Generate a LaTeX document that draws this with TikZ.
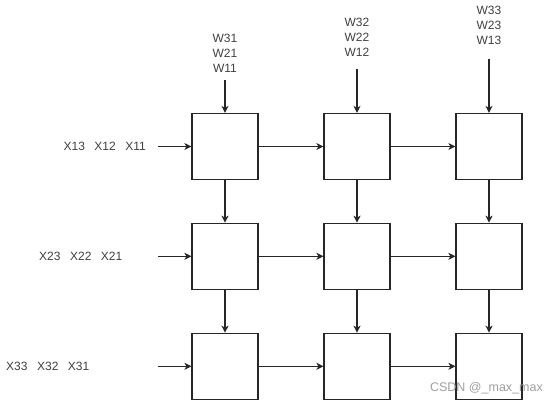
\documentclass[tikz,border=0pt]{standalone}
\usepackage{fontspec}
\setmainfont{Liberation Sans}
\usetikzlibrary{arrows.meta}
\definecolor{txt}{HTML}{404040}
\definecolor{wm}{HTML}{A0A0A0}
\begin{document}
\begin{tikzpicture}[x=1pt,y=1pt,
  cell/.style={draw=black!85,line width=1.2pt,minimum width=66pt,minimum height=66pt,inner sep=0pt},
  flow/.style={draw=black!85,line width=1.2pt,-{Stealth[length=7pt,width=7pt,inset=2pt]}},
  lbl/.style={text=txt,font=\fontsize{12}{15}\selectfont,inner sep=0pt,align=center}]
\useasboundingbox[fill=white] (0,0) rectangle (559,-404);
% boxes
\foreach \r/\y in {1/-146.5,2/-256.3,3/-366.3}{
  \foreach \c/\x in {1/225,2/357,3/489}{
    \node[cell] (b\r\c) at (\x,\y) {};
  }
}
% top inputs
\coordinate (t1) at (225,-80);
\coordinate (t2) at (357,-69);
\coordinate (t3) at (489,-58.7);
\node[lbl] (w1) at (225,-53.3) {W31\\W21\\W11};
\node[lbl] (w2) at (357,-37) {W32\\W22\\W12};
\node[lbl] (w3) at (489,-25.7) {W33\\W23\\W13};
\foreach \c in {1,2,3}{
  \draw[flow] (t\c) -- (b1\c.north);
  \draw[flow] (b1\c.south) -- (b2\c.north);
  \draw[flow] (b2\c.south) -- (b3\c.north);
}
% left inputs
\coordinate (i1) at (158,-146.5);
\coordinate (i2) at (158,-256.3);
\coordinate (i3) at (158,-366.3);
\node[lbl,anchor=east] (x1) at (146,-146.5) {X13\hspace{9.5pt}X12\hspace{9.5pt}X11};
\node[lbl,anchor=east] (x2) at (122.5,-256.3) {X23\hspace{9.5pt}X22\hspace{9.5pt}X21};
\node[lbl,anchor=east] (x3) at (89.5,-366.3) {X33\hspace{9.5pt}X32\hspace{9.5pt}X31};
\foreach \r in {1,2,3}{
  \draw[flow] (i\r) -- (b\r1.west);
  \draw[flow] (b\r1.east) -- (b\r2.west);
  \draw[flow] (b\r2.east) -- (b\r3.west);
}
% watermark
\node[text=wm,font=\fontsize{12.5}{15}\selectfont,inner sep=0pt,anchor=east] (wmk) at (543,-388) {CSDN @\_max\_max};
\end{tikzpicture}
\end{document}
